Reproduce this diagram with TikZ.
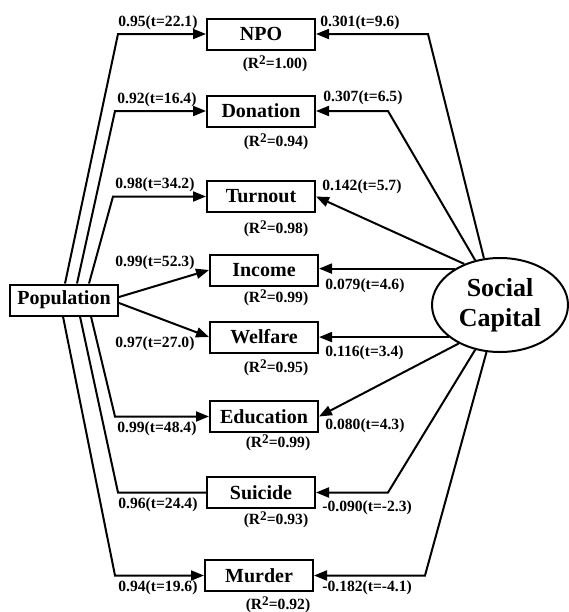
\documentclass[tikz,border=0pt]{standalone}
\usepackage{fontspec}
\setmainfont{Liberation Serif}
\usepackage{tikz}
\usetikzlibrary{arrows.meta,positioning,calc,shapes.geometric}
\newcommand{\rsqtext}[1]{(R\raisebox{0.6ex}{\fontsize{6.6}{7}\selectfont 2}=#1)}
\tikzset{
  varbox/.style={draw, line width=1pt, minimum width=54pt, minimum height=15.5pt,
                 inner sep=0pt, font=\fontsize{10}{12}\selectfont\bfseries},
  latent/.style={draw, ellipse, line width=1pt, minimum width=68pt, minimum height=47pt,
                 inner sep=0pt, align=center, font=\fontsize{13}{15}\selectfont\bfseries},
  coef/.style={font=\fontsize{7.8}{9}\selectfont\bfseries, inner sep=0pt, anchor=west},
  rsq/.style={font=\fontsize{7.8}{9}\selectfont\bfseries, inner sep=0pt},
  patharr/.style={-{Triangle[length=6.5pt,width=5pt]}, line width=1pt},
  pathline/.style={line width=1pt}
}
\begin{document}
\begin{tikzpicture}[x=0.5pt,y=-0.5pt]
    \useasboundingbox (0,0) rectangle (569,612);

    \node[varbox] (pop) at (64,300) {Population};
    \node[varbox] (npo) at (261,34) {NPO};
    \node[varbox] (don) at (261,111) {Donation};
    \node[varbox] (turn) at (261,196.5) {Turnout};
    \node[varbox] (inc) at (264,270) {Income};
    \node[varbox] (wel) at (264,337) {Welfare};
    \node[varbox] (edu) at (264,416.5) {Education};
    \node[varbox] (sui) at (261,492.5) {Suicide};
    \node[varbox] (mur) at (259,575.5) {Murder};
    \node[latent] (sc) at (500,305) {Social\\Capital};

    % population loadings
    \draw[patharr] ($(pop.north)+(1,0)$) -- (118,0 |- npo.west) -- (npo.west);
    \draw[patharr] ($(pop.north)+(13,0)$) -- (115,0 |- don.west) -- (don.west);
    \draw[patharr] ($(pop.north)+(25,0)$) -- (113,0 |- turn.west) -- (turn.west);
    \draw[patharr] ($(pop.east)+(0,-3)$) -- (inc.west);
    \draw[patharr] ($(pop.east)+(0,3)$) -- (wel.west);
    \draw[patharr] ($(pop.south)+(27,0)$) -- (115,0 |- edu.west) -- (edu.west);
    \draw[pathline] ($(pop.south)+(16,0)$) -- (118,0 |- sui.west) -- (sui.west);
    \draw[patharr] ($(pop.south)+(-1,0)$) -- (115,0 |- mur.west) -- (mur.west);

    % social capital loadings
    \draw[patharr] (sc.109) -- (428,0 |- npo.east) -- (npo.east);
    \draw[patharr] (sc.119) -- (388,0 |- don.east) -- (don.east);
    \draw[patharr] (sc.131) -- (turn.east);
    \draw[patharr] (sc.141) -- (sc.141 -| inc.east);
    \draw[patharr] (sc.212) -- (sc.212 -| wel.east);
    \draw[patharr] (sc.223) -- (edu.east);
    \draw[patharr] (sc.241) -- (388,0 |- sui.east) -- (sui.east);
    \draw[patharr] (sc.254) -- (425,0 |- mur.east) -- (mur.east);

    \node[coef] (cp1) at (118,23) {0.95(t=22.1)};
    \node[coef] (cp2) at (117,100) {0.92(t=16.4)};
    \node[coef] (cp3) at (115,185) {0.98(t=34.2)};
    \node[coef] (cp4) at (115,263) {0.99(t=52.3)};
    \node[coef] (cp5) at (115,344) {0.97(t=27.0)};
    \node[coef] (cp6) at (117,429) {0.99(t=48.4)};
    \node[coef] (cp7) at (118,505) {0.96(t=24.4)};
    \node[coef] (cp8) at (118,588) {0.94(t=19.6)};

    \node[coef] (cs1) at (320,23) {0.301(t=9.6)};
    \node[coef] (cs2) at (323,98) {0.307(t=6.5)};
    \node[coef] (cs3) at (322,187) {0.142(t=5.7)};
    \node[coef] (cs4) at (325,286) {0.079(t=4.6)};
    \node[coef] (cs5) at (325,353) {0.116(t=3.4)};
    \node[coef] (cs6) at (325,426) {0.080(t=4.3)};
    \node[coef] (cs7) at (322,508) {-0.090(t=-2.3)};
    \node[coef] (cs8) at (322,588) {-0.182(t=-4.1)};

    \node[rsq] (r1) at (275,64) {\rsqtext{1.00}};
    \node[rsq] (r2) at (276,142) {\rsqtext{0.94}};
    \node[rsq] (r3) at (276,229) {\rsqtext{0.98}};
    \node[rsq] (r4) at (276,298) {\rsqtext{0.99}};
    \node[rsq] (r5) at (276,368) {\rsqtext{0.95}};
    \node[rsq] (r6) at (278,443) {\rsqtext{0.99}};
    \node[rsq] (r7) at (276,520) {\rsqtext{0.93}};
    \node[rsq] (r8) at (278,605) {\rsqtext{0.92}};
\end{tikzpicture}
\end{document}
